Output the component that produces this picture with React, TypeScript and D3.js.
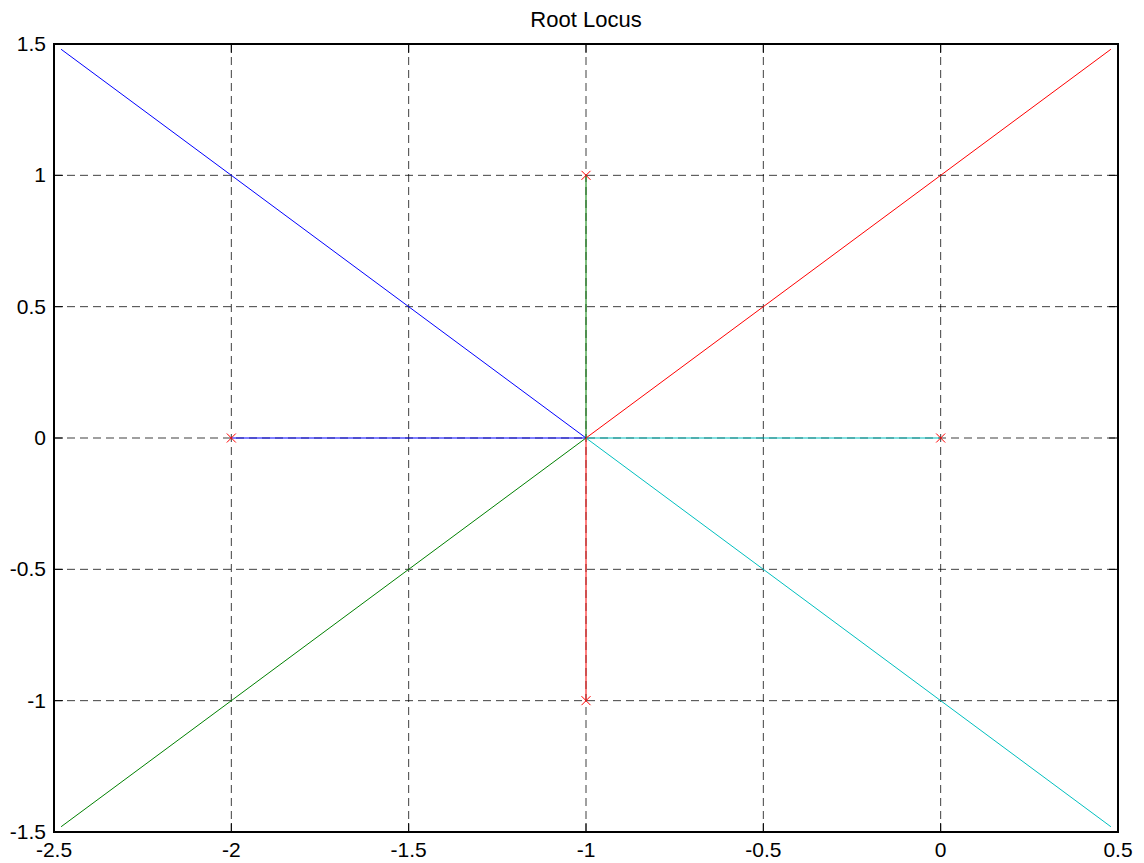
import React from "react";
import * as d3 from "d3";

const xTicks = [-2.5, -2, -1.5, -1, -0.5, 0, 0.5];
const yTicks = [-1.5, -1, -0.5, 0, 0.5, 1, 1.5];
const poles: [number, number][] = [[0, 0], [-2, 0], [-1, 1], [-1, -1]];
const branchBlue: [number, number][] = [[-2, 0], [-1, 0], [-2.48, 1.48]];
const branchCyan: [number, number][] = [[0, 0], [-1, 0], [0.48, -1.48]];
const branchGreen: [number, number][] = [[-1, 1], [-1, 0], [-2.48, -1.48]];
const branchRed: [number, number][] = [[-1, -1], [-1, 0], [0.48, 1.48]];
const series = [
  { name: "b1", pts: branchBlue, color: "#0000ff" },
  { name: "b2", pts: branchCyan, color: "#00bfbf" },
  { name: "b3", pts: branchGreen, color: "#008000" },
  { name: "b4", pts: branchRed, color: "#ff0000" },
];

export default function App() {
  const W = 1144, H = 863;
  const L = 54, R = 1118, T = 44, B = 832;
  const x = d3.scaleLinear().domain([-2.5, 0.5]).range([L, R]);
  const y = d3.scaleLinear().domain([-1.5, 1.5]).range([B, T]);
  const line = d3.line<[number, number]>().x(d => x(d[0])).y(d => y(d[1]));
  const fmt = (v: number) => String(v);
  return (
    <svg width={W} height={H} style={{ position: "absolute", left: 0, top: 0, background: "#fff" }}
      fontFamily="Arial, 'Liberation Sans', sans-serif">
      <rect x={0} y={0} width={W} height={H} fill="#fff" />
      {xTicks.slice(1, -1).map(v => (
        <line key={"gx" + v} x1={x(v)} x2={x(v)} y1={T} y2={B} stroke="#000" strokeWidth={1} strokeDasharray="8,5" opacity={0.75} />
      ))}
      {yTicks.slice(1, -1).map(v => (
        <line key={"gy" + v} x1={L} x2={R} y1={y(v)} y2={y(v)} stroke="#000" strokeWidth={1} strokeDasharray="8,5" opacity={0.75} />
      ))}
      {series.map(s => (
        <path key={s.name} d={line(s.pts) || ""} fill="none" stroke={s.color} strokeWidth={1} />
      ))}
      {poles.map((p, i) => {
        const cx = x(p[0]), cy = y(p[1]), r = 4.5;
        return (
          <g key={"p" + i} stroke="#ff0000" strokeWidth={1}>
            <line x1={cx - r} y1={cy - r} x2={cx + r} y2={cy + r} />
            <line x1={cx - r} y1={cy + r} x2={cx + r} y2={cy - r} />
          </g>
        );
      })}
      <rect x={L} y={T} width={R - L} height={B - T} fill="none" stroke="#000" strokeWidth={2} />
      {xTicks.map(v => (
        <g key={"tx" + v}>
          <line x1={x(v)} x2={x(v)} y1={B} y2={B - 9} stroke="#000" />
          <line x1={x(v)} x2={x(v)} y1={T} y2={T + 9} stroke="#000" />
          <text x={x(v)} y={857} textAnchor="middle" fontSize={21} fill="#000">{fmt(v)}</text>
        </g>
      ))}
      {yTicks.map(v => (
        <g key={"ty" + v}>
          <line x1={L} x2={L + 9} y1={y(v)} y2={y(v)} stroke="#000" />
          <line x1={R} x2={R - 9} y1={y(v)} y2={y(v)} stroke="#000" />
          <text x={46} y={y(v) + 7} textAnchor="end" fontSize={21} fill="#000">{fmt(v)}</text>
        </g>
      ))}
      <text x={(L + R) / 2} y={27} textAnchor="middle" fontSize={22} fill="#000">Root Locus</text>
    </svg>
  );
}
